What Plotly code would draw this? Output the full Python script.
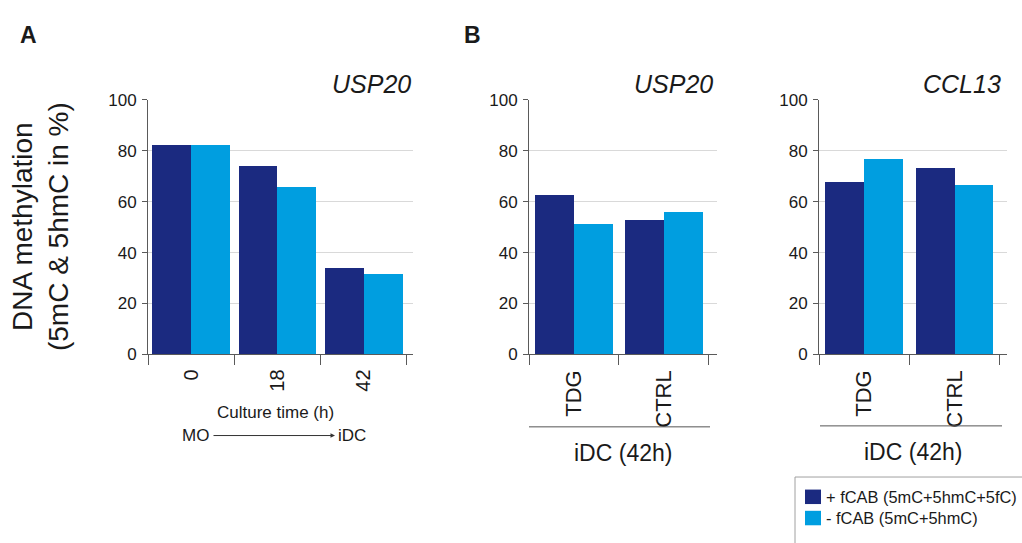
import plotly.graph_objects as go

# ---- data ----
time_labels = ["0", "18", "42"]
a_plus = [82.5, 74.0, 34.0]
a_minus = [82.5, 66.0, 31.7]

cond_labels = ["TDG", "CTRL"]
usp20_plus = [62.7, 52.8]
usp20_minus = [51.4, 56.1]
ccl13_plus = [68.0, 73.5]
ccl13_minus = [76.9, 66.5]

series_names = ["+ fCAB (5mC+5hmC+5fC)", "- fCAB (5mC+5hmC)"]
DARK = "#1b2a80"
LIGHT = "#009ee0"
FONT = "Liberation Sans, Arial, Helvetica, sans-serif"

W, H = 1022, 543


def px(x):
    return x / W


def py(y):
    return 1 - y / H


fig = go.Figure()

panels = [
    ("x", "y", time_labels, a_plus, a_minus, 0.45),
    ("x2", "y2", cond_labels, usp20_plus, usp20_minus, 0.43),
    ("x3", "y3", cond_labels, ccl13_plus, ccl13_minus, 0.43),
]
for i, (xa, ya, cats, plus, minus, w) in enumerate(panels):
    fig.add_trace(go.Bar(x=cats, y=plus, name=series_names[0], marker_color=DARK,
                         marker_line_width=0, width=w, offset=-w, xaxis=xa, yaxis=ya,
                         showlegend=False))
    fig.add_trace(go.Bar(x=cats, y=minus, name=series_names[1], marker_color=LIGHT,
                         marker_line_width=0, width=w, offset=0, xaxis=xa, yaxis=ya,
                         showlegend=False))

y_dom = [py(358), py(94)]
x_doms = [[px(148), px(413)], [px(529), px(717)], [px(819), px(1007)]]
x_ranges = [[-0.5, 2.57], [-0.5, 1.59], [-0.5, 1.58]]
cat_sizes = [20, 22, 22]

axis_col = "#5a5a5a"
layout = dict(
    width=W, height=H,
    margin=dict(l=0, r=0, t=0, b=0),
    paper_bgcolor="white", plot_bgcolor="white",
    font=dict(family=FONT, color="#1a1a1a"),
    showlegend=False,
    bargap=0, barmode="group",
)
for i in range(3):
    sx = "" if i == 0 else str(i + 1)
    layout["xaxis" + sx] = dict(
        domain=x_doms[i], anchor="y" + sx, type="category",
        range=x_ranges[i], tickson="boundaries",
        showgrid=False, showline=True, linecolor=axis_col, linewidth=1,
        ticks="outside", ticklen=10, tickcolor=axis_col, tickwidth=1,
        tickangle=-90, tickfont=dict(size=cat_sizes[i], color="#1a1a1a"),
        zeroline=False, ticklabelstandoff=6,
    )
    layout["yaxis" + sx] = dict(
        domain=y_dom, anchor="x" + sx, range=[0, 100],
        tickvals=[0, 20, 40, 60, 80, 100],
        showgrid=True, gridcolor="#d9d9d9", gridwidth=1,
        showline=True, linecolor=axis_col, linewidth=1,
        ticks="outside", ticklen=5, tickcolor=axis_col,
        tickfont=dict(size=17, color="#1a1a1a"), zeroline=False,
        ticklabelstandoff=2,
    )
fig.update_layout(**layout)

ann = []


def A(text, x, y, size, xanchor="center", yanchor="middle", **kw):
    ann.append(dict(text=text, x=px(x), y=py(y), xref="paper", yref="paper",
                    xanchor=xanchor, yanchor=yanchor, showarrow=False,
                    font=dict(size=size, family=FONT, color="#1a1a1a"), **kw))


# panel letters
A("<b>A</b>", 28, 27, 23)
A("<b>B</b>", 472, 27, 23)
# gene titles
A("<i>USP20</i>", 413, 78, 25, xanchor="right")
A("<i>USP20</i>", 715, 78, 25, xanchor="right")
A("<i>CCL13</i>", 1003, 78, 25, xanchor="right")
# y axis title
A("DNA methylation<br>(5mC & 5hmC in %)", 40, 226, 28, textangle=-90)
# panel A x labels
A("Culture time (h)", 275, 418, 17)
A("MO", 195, 442, 17)
A("iDC", 352, 442, 17)
ann.append(dict(text="", x=px(335), y=py(442), xref="paper", yref="paper",
                ax=-123, ay=0, axref="pixel", ayref="pixel", showarrow=True,
                arrowhead=2, arrowsize=0.9, arrowwidth=1, arrowcolor="#333333"))
# panel B group labels
A("iDC (42h)", 623, 460, 23)
A("iDC (42h)", 913, 459, 23)

# legend (manual)
A(series_names[0], 824, 506, 16.4, xanchor="left")
A(series_names[1], 824, 527, 16.4, xanchor="left")

shapes = [
    dict(type="line", xref="paper", yref="paper", x0=px(529), x1=px(710),
         y0=py(433), y1=py(433), line=dict(color="#555555", width=1)),
    dict(type="line", xref="paper", yref="paper", x0=px(820), x1=px(1002),
         y0=py(432), y1=py(432), line=dict(color="#555555", width=1)),
    dict(type="rect", xref="paper", yref="paper", x0=px(795), x1=px(1040),
         y0=py(485), y1=py(560), line=dict(color="#a0a0a0", width=1),
         fillcolor="rgba(0,0,0,0)"),
    dict(type="rect", xref="paper", yref="paper", x0=px(805), x1=px(821),
         y0=py(498), y1=py(513), line=dict(width=0), fillcolor=DARK),
    dict(type="rect", xref="paper", yref="paper", x0=px(805), x1=px(821),
         y0=py(520), y1=py(535), line=dict(width=0), fillcolor=LIGHT),
]
fig.update_layout(annotations=ann, shapes=shapes)

fig.write_html("out.html")
